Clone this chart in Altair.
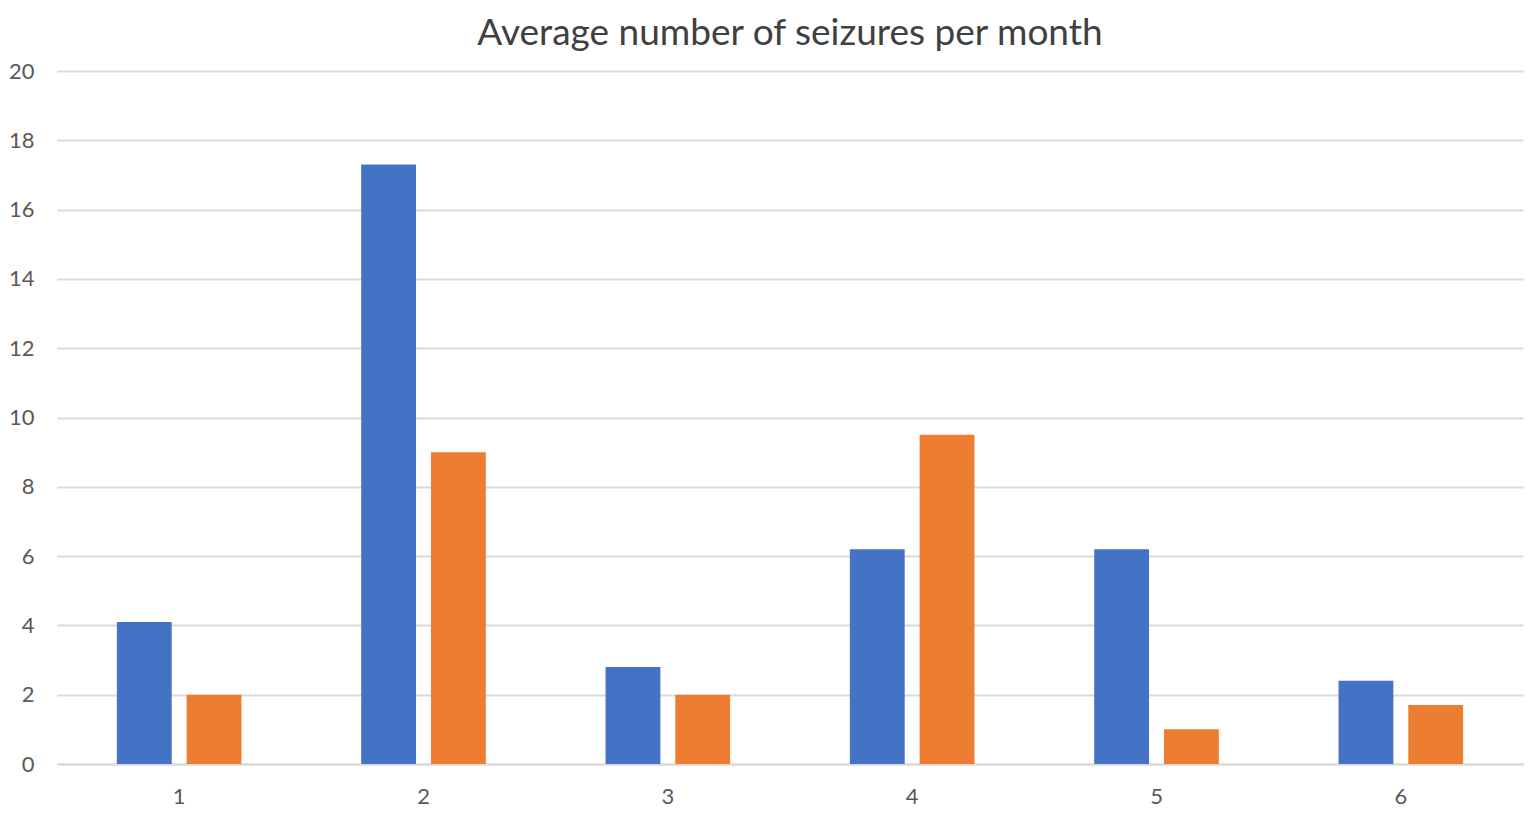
import altair as alt
import pandas as pd

categories = ["1", "2", "3", "4", "5", "6"]
series_a = [4.1, 17.3, 2.8, 6.2, 6.2, 2.4]
series_b = [2.0, 9.0, 2.0, 9.5, 1.0, 1.7]
series_names = ["Series 1", "Series 2"]
colors = ["#4472C4", "#ED7D31"]

rows = []
for c, a, b in zip(categories, series_a, series_b):
    rows.append({"cat": c, "series": series_names[0], "value": a})
    rows.append({"cat": c, "series": series_names[1], "value": b})
df = pd.DataFrame(rows)

chart = alt.Chart(df).mark_bar().encode(
    x=alt.X("cat:N", sort=categories, title=None,
            scale=alt.Scale(paddingInner=0.49, paddingOuter=0.245),
            axis=alt.Axis(labelAngle=0, ticks=False, domain=True, domainColor="#d9d9d9",
                          domainWidth=2, labelFontSize=22, labelColor="#595959",
                          labelPadding=22, labelFont="Lato", grid=False)),
    xOffset=alt.XOffset("series:N", sort=series_names,
                        scale=alt.Scale(paddingInner=0.214, paddingOuter=0)),
    y=alt.Y("value:Q", title=None,
            scale=alt.Scale(domain=[0, 20], nice=False),
            axis=alt.Axis(values=list(range(0, 21, 2)), ticks=False, domain=False,
                          gridColor="#d9d9d9", gridWidth=2, labelFontSize=22,
                          labelColor="#595959", labelPadding=23, labelFont="Lato")),
    color=alt.Color("series:N", sort=series_names,
                    scale=alt.Scale(domain=series_names, range=colors), legend=None),
).properties(
    width=1466, height=693,
    background="white",
    title=alt.TitleParams("Average number of seizures per month", fontSize=37,
                          font="Lato", fontWeight="normal", color="#404040",
                          anchor="middle", offset=7),
    padding={"left": 0, "top": 7, "right": 5, "bottom": 0},
).configure_view(strokeWidth=0)

chart.save("out.html", embed_options={"renderer": "svg", "actions": False})
